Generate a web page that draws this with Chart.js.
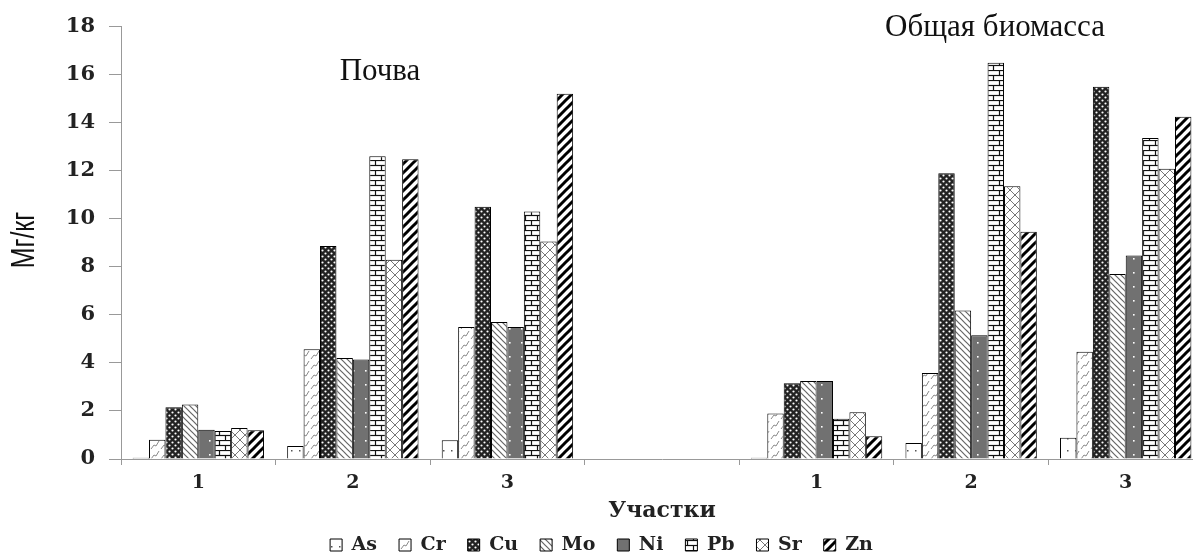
<!DOCTYPE html>
<html>
<head>
<meta charset="utf-8">
<script src="https://cdn.jsdelivr.net/npm/chart.js@4.4.1/dist/chart.umd.min.js"></script>
<style>
  html, body { margin: 0; background: #fff; overflow: hidden; }
</style>
</head>
<body>
<!-- холст чуть шире окна: правый край графика обрезан, как на исходнике -->
<canvas id="chart" width="1203" height="558"></canvas>
<script>
// участки: 1-3 почва, пустая позиция, 1-3 общая биомасса
const sites = ['1', '2', '3', '', '1', '2', '3'];
const elements = ['As', 'Cr', 'Cu', 'Mo', 'Ni', 'Pb', 'Sr', 'Zn'];

const asVals = [0.05, 0.54, 0.78, null, 0.05, 0.67, 0.88];
const crVals = [0.8, 4.57, 5.5, null, 1.89, 3.58, 4.46];
const cuVals = [2.15, 8.87, 10.5, null, 3.15, 11.9, 15.5];
const moVals = [2.27, 4.2, 5.7, null, 3.25, 6.18, 7.7];
const niVals = [1.22, 4.14, 5.5, null, 3.25, 5.15, 8.47];
const pbVals = [1.17, 12.6, 10.3, null, 1.68, 16.5, 13.36];
const srVals = [1.29, 8.29, 9.05, null, 1.95, 11.35, 12.08];
const znVals = [1.2, 12.48, 15.2, null, 0.95, 9.46, 14.25];

const ctx = document.getElementById('chart').getContext('2d');

function makePattern(w, h, draw) {
  const c = document.createElement('canvas');
  c.width = w;
  c.height = h;
  const g = c.getContext('2d');
  g.fillStyle = '#fff';
  g.fillRect(0, 0, w, h);
  draw(g, w, h);
  return ctx.createPattern(c, 'repeat');
}

function line(g, x1, y1, x2, y2) {
  g.beginPath();
  g.moveTo(x1, y1);
  g.lineTo(x2, y2);
  g.stroke();
}

const patterns = [
  // As - точки
  makePattern(8, 12, (g) => {
    g.fillStyle = '#555';
    g.fillRect(3, 6, 1.5, 1.5);
  }),
  // Cr - мелкие штрихи
  makePattern(10, 10, (g) => {
    g.strokeStyle = '#8a8a8a';
    g.lineWidth = 1;
    g.beginPath();
    g.moveTo(1, 9);
    g.lineTo(4, 5);
    g.lineTo(6, 6);
    g.lineTo(9, 1);
    g.stroke();
  }),
  // Cu - тёмная сетка
  makePattern(6, 6, (g) => {
    g.fillStyle = '#222';
    g.fillRect(0, 0, 6, 6);
    g.fillStyle = '#fff';
    g.beginPath();
    g.arc(1.5, 1.5, 1.1, 0, Math.PI * 2);
    g.arc(4.5, 4.5, 1.1, 0, Math.PI * 2);
    g.fill();
  }),
  // Mo - обратная штриховка
  makePattern(6, 6, (g) => {
    g.strokeStyle = '#666';
    g.lineWidth = 1.2;
    line(g, 0, 0, 6, 6);
    line(g, -3, 3, 3, 9);
    line(g, 3, -3, 9, 3);
  }),
  // Ni - серый с точками
  makePattern(12, 14, (g) => {
    g.fillStyle = '#717171';
    g.fillRect(0, 0, 12, 14);
    g.fillStyle = '#fff';
    g.fillRect(5, 6, 1.6, 1.6);
  }),
  // Pb - кирпичи
  makePattern(12, 10, (g) => {
    g.strokeStyle = '#111';
    g.lineWidth = 1.2;
    line(g, 0, 0.5, 12, 0.5);
    line(g, 0, 5.5, 12, 5.5);
    line(g, 3.5, 0, 3.5, 5.5);
    line(g, 9.5, 5.5, 9.5, 10);
  }),
  // Sr - косая клетка
  makePattern(10, 10, (g) => {
    g.strokeStyle = '#777';
    g.lineWidth = 1;
    line(g, 0, 0, 10, 10);
    line(g, 0, 10, 10, 0);
  }),
  // Zn - жирная штриховка
  makePattern(9, 9, (g) => {
    g.strokeStyle = '#000';
    g.lineWidth = 3;
    line(g, 0, 9, 9, 0);
    line(g, -4.5, 4.5, 4.5, -4.5);
    line(g, 4.5, 13.5, 13.5, 4.5);
  }),
];

const seriesValues = [asVals, crVals, cuVals, moVals, niVals, pbVals, srVals, znVals];

const datasets = elements.map((name, i) => ({
  label: name,
  data: seriesValues[i],
  backgroundColor: patterns[i],
  borderColor: '#000',
  borderWidth: 1,
  borderSkipped: 'bottom',
  categoryPercentage: 0.85,
  barPercentage: 1.0,
}));

const serifBold = { family: 'DejaVu Serif', weight: 'bold', size: 19 };

// подписи "Почва", "Общая биомасса" и ось Y
const labelsPlugin = {
  id: 'labels',
  afterDraw(chart) {
    const c = chart.ctx;
    c.save();
    c.fillStyle = '#111';
    c.textAlign = 'center';
    c.textBaseline = 'middle';
    c.font = '31px "Liberation Serif"';
    c.fillText('Почва', 380, 72);
    c.fillText('Общая биомасса', 995, 28);

    c.translate(25, 240);
    c.rotate(-Math.PI / 2);
    c.scale(0.73, 1);
    c.font = '34px "Liberation Sans"';
    c.fillText('Мг/кг', 0, 0);
    c.restore();
  },
};

new Chart(ctx, {
  type: 'bar',
  data: { labels: sites, datasets: datasets },
  plugins: [labelsPlugin],
  options: {
    responsive: false,
    animation: false,
    layout: { padding: { top: 24, right: 0, left: 0, bottom: -6.5 } },
    plugins: {
      legend: {
        position: 'bottom',
        labels: {
          font: serifBold,
          color: '#222',
          boxWidth: 12,
          boxHeight: 12,
          padding: 22,
        },
      },
      tooltip: { enabled: false },
    },
    scales: {
      x: {
        afterFit(scale) {
          scale.height = 54.5;
        },
        grid: { drawOnChartArea: false, tickLength: 6, color: '#999', offset: true },
        border: { color: '#999' },
        ticks: { font: serifBold, color: '#222', padding: 7 },
        title: {
          display: true,
          text: 'Участки',
          font: { family: 'DejaVu Serif', weight: 'bold', size: 22 },
          color: '#222',
          padding: { top: 0, bottom: -11 },
        },
      },
      y: {
        min: 0,
        max: 18,
        afterFit(scale) {
          scale.width = 121;
        },
        grid: { drawOnChartArea: false, tickLength: 12, color: '#999' },
        border: { color: '#999' },
        ticks: { stepSize: 2, font: { family: 'DejaVu Serif', weight: 'bold', size: 21 }, color: '#222', padding: 14 },
      },
    },
  },
});
</script>
</body>
</html>
